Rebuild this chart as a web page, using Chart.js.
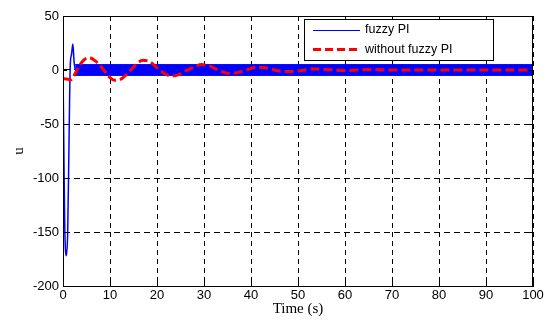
<!DOCTYPE html>
<html>
<head>
<meta charset="utf-8">
<script src="https://cdn.jsdelivr.net/npm/chart.js@4/dist/chart.umd.min.js"></script>
<style>
  html, body { margin: 0; padding: 0; background: #fff; }
  #wrap { position: relative; width: 553px; height: 320px; }
</style>
</head>
<body>
<div id="wrap"><canvas id="c" width="553" height="320"></canvas></div>
<script>
// ---- data ----
const xTicks = [0, 10, 20, 30, 40, 50, 60, 70, 80, 90, 100];
const yTicks = [-200, -150, -100, -50, 0, 50];

// fuzzy PI: initial transient
const fuzzyTime = [0, 0.15, 0.35, 0.7, 1.0, 1.3, 1.55, 1.8, 2.1, 2.35, 2.6];
const fuzzyU    = [0, -60, -140, -172, -150, -60, 5, 14, 24, 8, 0];
// fuzzy PI: fast oscillation envelope afterwards
const bandTime  = [2.6, 100];
const bandUpper = [5, 5];
const bandLower = [-5, -5];

// without fuzzy PI
const redTime = [0, 1, 1.8, 2.5, 3.5, 4.5, 5.5, 7, 8.5, 10, 11, 12.5, 14, 15.5, 17, 18.5, 20, 21.5, 23, 24.5, 26, 28, 29.5, 31, 33, 35, 37, 39, 41, 43, 45, 47, 50, 53, 56, 60, 65, 70, 80, 90, 100];
const redU    = [-8, -8.5, -9, -4, 4, 9.5, 11.5, 8, 1, -7, -9.5, -8, -2, 5, 9, 7.5, 2, -3, -5.5, -4.5, -1, 3, 5, 4, 0, -3, -2.5, 0, 2.5, 2, 0, -1.5, -1, 1, 0.5, -0.5, 0.5, 0, 0, 0, 0];

const seriesNames = ['fuzzy PI', 'without fuzzy PI'];
const xTitle = 'Time (s)';
const yTitle = 'u';

const pts = (xs, ys) => xs.map((x, i) => ({x: x, y: ys[i]}));

const BLUE = '#0000ff';
const RED = '#ff0000';

const framePlugin = {
  id: 'frame',
  afterDatasetsDraw(chart) {
    const {ctx, chartArea: a} = chart;
    ctx.save();
    ctx.strokeStyle = '#000';
    ctx.lineWidth = 1;
    ctx.strokeRect(Math.round(a.left) + 0.5, Math.round(a.top) + 0.5, Math.round(a.right - a.left) - 1, Math.round(a.bottom - a.top));
    // small inward tick marks
    const xs = chart.scales.x, ys = chart.scales.y;
    ctx.beginPath();
    xTicks.forEach(v => {
      const px = Math.round(xs.getPixelForValue(v)) + 0.5;
      ctx.moveTo(px, a.bottom); ctx.lineTo(px, a.bottom - 4);
      ctx.moveTo(px, a.top); ctx.lineTo(px, a.top + 4);
    });
    yTicks.forEach(v => {
      const py = Math.round(ys.getPixelForValue(v)) + 0.5;
      ctx.moveTo(a.left, py); ctx.lineTo(a.left + 4, py);
      ctx.moveTo(a.right, py); ctx.lineTo(a.right - 4, py);
    });
    ctx.stroke();

    // legend box
    const bx = 304.5, by = 19.5, bw = 189, bh = 41;
    ctx.fillStyle = '#fff';
    ctx.fillRect(bx, by, bw, bh);
    ctx.strokeStyle = '#000';
    ctx.lineWidth = 1;
    ctx.strokeRect(bx, by, bw, bh);
    // blue sample
    ctx.beginPath();
    ctx.strokeStyle = BLUE;
    ctx.lineWidth = 1;
    ctx.moveTo(313, 30.5); ctx.lineTo(360, 30.5);
    ctx.stroke();
    // red sample
    ctx.beginPath();
    ctx.strokeStyle = RED;
    ctx.lineWidth = 3;
    ctx.setLineDash([8, 4]);
    ctx.moveTo(313, 49.5); ctx.lineTo(361, 49.5);
    ctx.stroke();
    ctx.setLineDash([]);
    ctx.fillStyle = '#000';
    ctx.font = '12.5px "Liberation Sans", Arial, sans-serif';
    ctx.textBaseline = 'middle';
    ctx.textAlign = 'left';
    ctx.fillText(seriesNames[0], 365, 30);
    ctx.fillText(seriesNames[1], 365, 50);
    ctx.restore();
  }
};

new Chart(document.getElementById('c'), {
  type: 'line',
  data: {
    datasets: [
      {
        label: seriesNames[1],
        data: pts(redTime, redU),
        borderColor: RED,
        borderWidth: 3,
        borderDash: [9, 4],
        pointRadius: 0,
        cubicInterpolationMode: 'monotone',
        fill: false,
        order: 0
      },
      {
        label: seriesNames[0],
        data: pts(fuzzyTime, fuzzyU),
        borderColor: BLUE,
        borderWidth: 1.5,
        pointRadius: 0,
        cubicInterpolationMode: 'monotone',
        fill: false,
        order: 1
      },
      {
        label: seriesNames[0] + ' upper',
        data: pts(bandTime, bandUpper),
        borderColor: BLUE,
        backgroundColor: BLUE,
        borderWidth: 1,
        pointRadius: 0,
        fill: '+1',
        order: 2
      },
      {
        label: seriesNames[0] + ' lower',
        data: pts(bandTime, bandLower),
        borderColor: BLUE,
        borderWidth: 1,
        pointRadius: 0,
        fill: false,
        order: 3
      }
    ]
  },
  options: {
    responsive: false,
    animation: false,
    events: [],
    layout: { padding: { top: 16, right: 20, left: 0, bottom: 0 } },
    plugins: {
      legend: { display: false },
      tooltip: { enabled: false },
      title: { display: false }
    },
    scales: {
      x: {
        type: 'linear',
        min: 0, max: 100,
        afterBuildTicks: s => { s.ticks = xTicks.map(v => ({value: v})); },
        afterFit: s => { s.height = 34; },
        grid: { color: '#000', lineWidth: 1, drawTicks: false },
        border: { display: true, color: '#000', width: 1, dash: [5, 4] },
        ticks: { color: '#000', padding: 2, font: { family: '"Liberation Sans", Arial, sans-serif', size: 13 }, maxRotation: 0 },
        title: { display: true, text: xTitle, color: '#000', font: { family: '"Liberation Serif", "Times New Roman", serif', size: 15 }, padding: { top: 0, bottom: 2 } }
      },
      y: {
        type: 'linear',
        min: -200, max: 50,
        afterBuildTicks: s => { s.ticks = yTicks.map(v => ({value: v})); },
        afterFit: s => { s.width = 63; },
        grid: { color: '#000', lineWidth: 1, drawTicks: false },
        border: { display: true, color: '#000', width: 1, dash: [6, 4] },
        ticks: { color: '#000', padding: 4, font: { family: '"Liberation Sans", Arial, sans-serif', size: 13 } },
        title: { display: true, text: yTitle, color: '#000', font: { family: '"Liberation Serif", "Times New Roman", serif', size: 15 }, padding: { top: 10, bottom: 0 } }
      }
    }
  },
  plugins: [framePlugin]
});
</script>
</body>
</html>
